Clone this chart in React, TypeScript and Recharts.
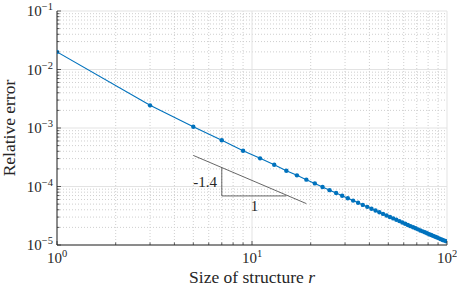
import React from "react";
import {
    LineChart,
    Line,
    XAxis,
    YAxis,
    CartesianGrid,
    ReferenceLine,
    ReferenceDot,
    Label,
} from "recharts";

// structure size r (odd values) and the relative error
const sizes = [
    1, 3, 5, 7, 9, 11, 13, 15, 17, 19, 21, 23, 25, 27, 29, 31, 33, 35, 37, 39,
    41, 43, 45, 47, 49, 51, 53, 55, 57, 59, 61, 63, 65, 67, 69, 71, 73, 75, 77, 79,
    81, 83, 85, 87, 89, 91, 93, 95, 97, 99,
];
const errors = [
    2.0e-2, 2.44e-3, 1.05e-3, 6.16e-4, 4.09e-4, 3.03e-4, 2.36e-4, 1.86e-4, 1.55e-4, 1.31e-4,
    1.13e-4, 9.8e-5, 8.66e-5, 7.73e-5, 6.95e-5, 6.3e-5, 5.74e-5, 5.26e-5, 4.85e-5, 4.49e-5,
    4.16e-5, 3.88e-5, 3.63e-5, 3.4e-5, 3.2e-5, 3.01e-5, 2.85e-5, 2.7e-5, 2.56e-5, 2.43e-5,
    2.31e-5, 2.2e-5, 2.1e-5, 2.01e-5, 1.93e-5, 1.85e-5, 1.77e-5, 1.71e-5, 1.65e-5, 1.59e-5,
    1.53e-5, 1.48e-5, 1.43e-5, 1.38e-5, 1.34e-5, 1.3e-5, 1.26e-5, 1.22e-5, 1.19e-5, 1.16e-5,
];

// axis decades and their exponent labels
const xDecades = [1, 10, 100];
const xExponents = ["0", "1", "2"];
const yDecades = [1e-5, 1e-4, 1e-3, 1e-2, 1e-1];
const yExponents = ["\u22125", "\u22124", "\u22123", "\u22122", "\u22121"];
const minorSteps = [2, 3, 4, 5, 6, 7, 8, 9];

// slope triangle: hypotenuse, vertical leg, horizontal leg
const slopeLine = [{ x: 5, y: 3.4e-4 }, { x: 19, y: 5.1e-5 }];
const riseLeg = [{ x: 7, y: 2.1e-4 }, { x: 7, y: 6.9e-5 }];
const runLeg = [{ x: 7, y: 6.9e-5 }, { x: 15, y: 6.9e-5 }];
const slopeTexts = [
    { x: 5.75, y: 1.19e-4, text: "-1.4" },
    { x: 10.3, y: 4.64e-5, text: "1" },
];

const data = sizes.map((r, i) => ({ r, err: errors[i] }));

const minorOf = (decades: number[]) =>
    decades.slice(0, -1).flatMap(d => minorSteps.map(m => +(d * m).toPrecision(6)));
const xMinor = minorOf(xDecades);
const yMinor = minorOf(yDecades);
const xTicks = [...xDecades, ...xMinor].sort((a, b) => a - b);
const yTicks = [...yDecades, ...yMinor].sort((a, b) => a - b);

const FONT = "'Liberation Serif', 'DejaVu Serif', serif";
const AXIS = "#262626";
const BLUE = "#0072BD";
const MAJOR = 4;
const MINOR = 2.5;

const majorIndex = (list: number[], v: number) =>
    list.findIndex(d => Math.abs(d - v) / d < 1e-6);

function BottomTick(props: any) {
    const { x, y, payload } = props;
    const idx = majorIndex(xDecades, payload.value);
    const len = idx >= 0 ? MAJOR : MINOR;
    return (
        <g>
            <line x1={x} x2={x} y1={y} y2={y - len} stroke={AXIS} strokeWidth={0.75} />
            {idx >= 0 && (
                <text x={x} y={y + 18} textAnchor="middle" fontFamily={FONT} fontSize={15} fill={AXIS}>
                    <tspan>10</tspan>
                    <tspan dy={-6} fontSize={10.5}>{xExponents[idx]}</tspan>
                </text>
            )}
        </g>
    );
}

function TopTick(props: any) {
    const { x, y, payload } = props;
    const len = majorIndex(xDecades, payload.value) >= 0 ? MAJOR : MINOR;
    return <line x1={x} x2={x} y1={y} y2={y + len} stroke={AXIS} strokeWidth={0.75} />;
}

function LeftTick(props: any) {
    const { x, y, payload } = props;
    const idx = majorIndex(yDecades, payload.value);
    const len = idx >= 0 ? MAJOR : MINOR;
    return (
        <g>
            <line x1={x} x2={x + len} y1={y} y2={y} stroke={AXIS} strokeWidth={0.75} />
            {idx >= 0 && (
                <text x={x - 4} y={y + 5} textAnchor="end" fontFamily={FONT} fontSize={15} fill={AXIS}>
                    <tspan>10</tspan>
                    <tspan dy={-6} fontSize={10.5}>{yExponents[idx]}</tspan>
                </text>
            )}
        </g>
    );
}

function RightTick(props: any) {
    const { x, y, payload } = props;
    const len = majorIndex(yDecades, payload.value) >= 0 ? MAJOR : MINOR;
    return <line x1={x} x2={x - len} y1={y} y2={y} stroke={AXIS} strokeWidth={0.75} />;
}

const SlopeText = (text: string) => (p: any) => (
    <text x={p.cx} y={p.cy + 5} textAnchor="middle" fontFamily={FONT} fontSize={15} fill={AXIS}>
        {text}
    </text>
);

export default function App() {
    return (
        <div style={{ width: 457, height: 289, background: "#fff" }}>
            <style>{`body { margin: 0; }`}</style>
            <LineChart
                width={457}
                height={289}
                data={data}
                margin={{ top: 11, right: 10, left: 0, bottom: 0 }}
            >
                <CartesianGrid
                    horizontalValues={yMinor}
                    verticalValues={xMinor}
                    stroke="#cfcfcf"
                    strokeDasharray="1 2"
                />
                <CartesianGrid
                    horizontalValues={yDecades}
                    verticalValues={xDecades}
                    stroke="#e3e3e3"
                />
                <XAxis
                    dataKey="r"
                    type="number"
                    scale="log"
                    domain={[1, 100]}
                    ticks={xTicks}
                    allowDataOverflow
                    height={44}
                    tickSize={0}
                    tickMargin={0}
                    tickLine={false}
                    interval={0}
                    stroke={AXIS}
                    tick={<BottomTick />}
                >
                    <Label
                        content={(p: any) => (
                            <text
                                x={p.viewBox.x + p.viewBox.width / 2}
                                y={p.viewBox.y + 38}
                                textAnchor="middle"
                                fontFamily={FONT}
                                fontSize={17.5}
                                fill={AXIS}
                            >
                                Size of structure <tspan fontStyle="italic">r</tspan>
                            </text>
                        )}
                    />
                </XAxis>
                <XAxis
                    xAxisId="top"
                    orientation="top"
                    type="number"
                    scale="log"
                    domain={[1, 100]}
                    ticks={xTicks}
                    allowDataOverflow
                    height={0}
                    tickSize={0}
                    tickMargin={0}
                    tickLine={false}
                    interval={0}
                    stroke={AXIS}
                    tick={<TopTick />}
                />
                <YAxis
                    type="number"
                    scale="log"
                    domain={[1e-5, 1e-1]}
                    ticks={yTicks}
                    allowDataOverflow
                    width={57}
                    tickSize={0}
                    tickMargin={0}
                    tickLine={false}
                    interval={0}
                    stroke={AXIS}
                    tick={<LeftTick />}
                >
                    <Label
                        content={(p: any) => {
                            const cy = p.viewBox.y + p.viewBox.height / 2;
                            return (
                                <text
                                    x={15}
                                    y={cy}
                                    transform={`rotate(-90 15 ${cy})`}
                                    textAnchor="middle"
                                    fontFamily={FONT}
                                    fontSize={17.5}
                                    fill={AXIS}
                                >
                                    Relative error
                                </text>
                            );
                        }}
                    />
                </YAxis>
                <YAxis
                    yAxisId="right"
                    orientation="right"
                    type="number"
                    scale="log"
                    domain={[1e-5, 1e-1]}
                    ticks={yTicks}
                    allowDataOverflow
                    width={0}
                    tickSize={0}
                    tickMargin={0}
                    tickLine={false}
                    interval={0}
                    stroke={AXIS}
                    tick={<RightTick />}
                />
                <ReferenceLine segment={slopeLine} stroke="#404040" strokeWidth={0.8} />
                <ReferenceLine segment={riseLeg} stroke="#404040" strokeWidth={0.8} />
                <ReferenceLine segment={runLeg} stroke="#404040" strokeWidth={0.8} />
                {slopeTexts.map(t => (
                    <ReferenceDot key={t.text} x={t.x} y={t.y} r={0} shape={SlopeText(t.text)} />
                ))}
                <Line
                    dataKey="err"
                    stroke={BLUE}
                    strokeWidth={1.1}
                    dot={{ r: 2.2, fill: BLUE, stroke: BLUE, strokeWidth: 0 }}
                    isAnimationActive={false}
                />
            </LineChart>
        </div>
    );
}
